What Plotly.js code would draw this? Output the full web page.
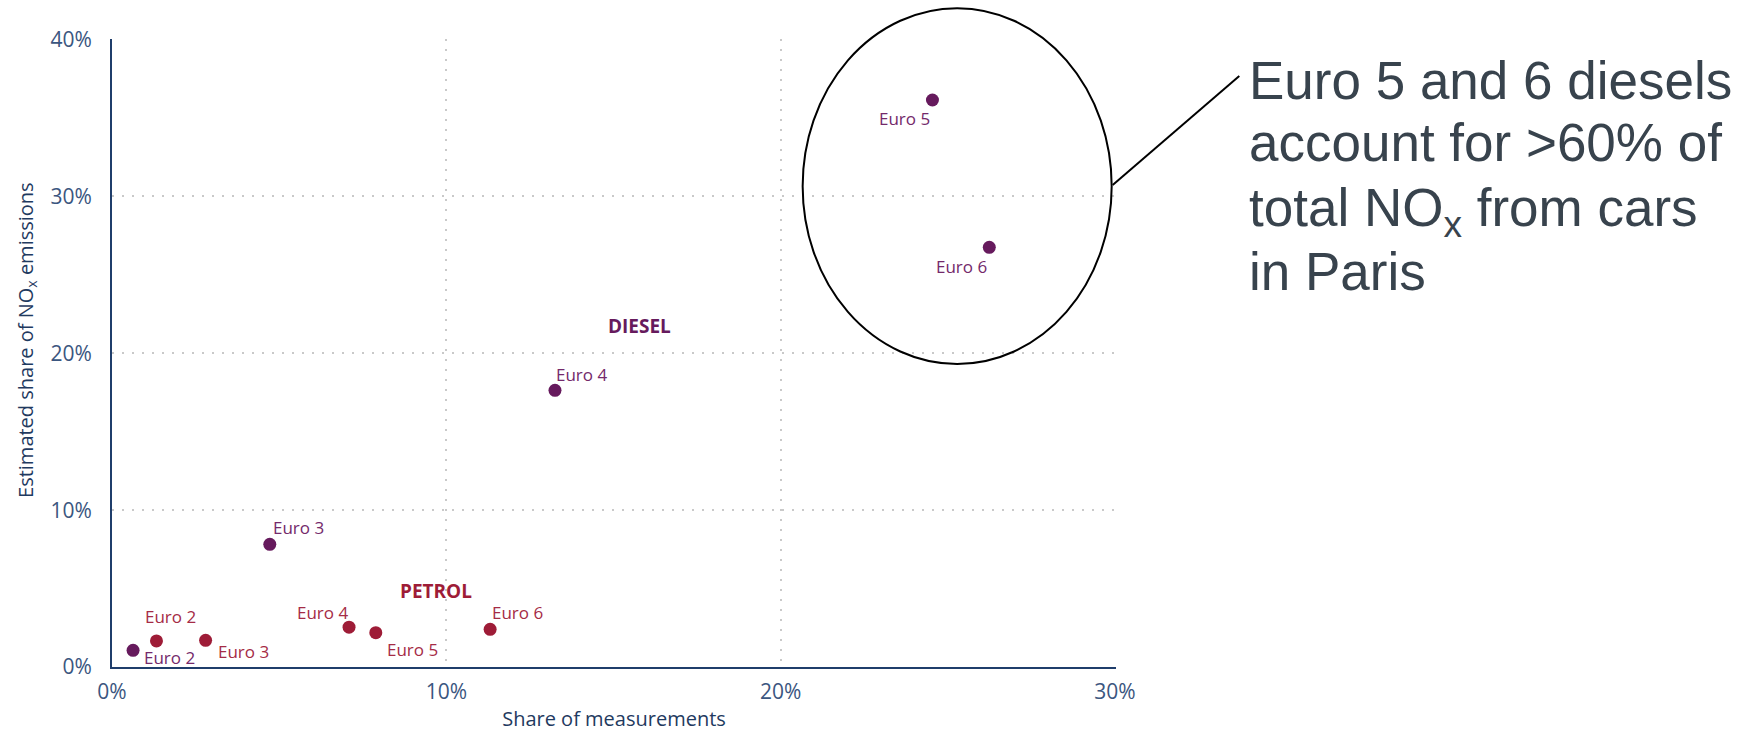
<!DOCTYPE html>
<html>
<head>
<meta charset="utf-8">
<script src="https://cdn.plot.ly/plotly-3.0.1.min.js"></script>
<style>html,body{margin:0;padding:0;background:#fff;}#chart{width:1752px;height:732px;}</style>
</head>
<body>
<div id="chart"></div>
<script>
// ---- data (values in %) ----
const categories = ['Euro 2', 'Euro 3', 'Euro 4', 'Euro 5', 'Euro 6'];
const dieselShareOfMeasurements = [0.63, 4.72, 13.25, 24.54, 26.24];
const dieselShareOfNOx = [1.06, 7.82, 17.64, 36.15, 26.76];
const petrolShareOfMeasurements = [1.33, 2.80, 7.09, 7.89, 11.31];
const petrolShareOfNOx = [1.66, 1.70, 2.54, 2.19, 2.40];
const xTickValues = [0, 10, 20, 30];
const yTickValues = [0, 10, 20, 30, 40];

// ---- styles ----
const dieselColor = '#661a5d';
const dieselText = '#74296b';
const petrolColor = '#9e1c37';
const petrolText = '#a52b46';
const navy = '#1f3d6b';
const tickColor = '#3b5680';
const chartFont = 'Open Sans, Noto Sans, sans-serif';
// label offsets in px [dx, dy(down)] relative to each point
const dieselLabelOffsets = [[36, 7], [29, -17], [27, -16], [-28, 18], [-28, 19]];
const petrolLabelOffsets = [[14, -24], [38, 11], [-27, -15], [37, 17], [27, -17]];

const traces = [
  {
    type: 'scatter', mode: 'markers', name: 'Diesel',
    x: dieselShareOfMeasurements, y: dieselShareOfNOx, text: categories,
    marker: {color: dieselColor, size: 13}, cliponaxis: false, hoverinfo: 'x+y+text'
  },
  {
    type: 'scatter', mode: 'markers', name: 'Petrol',
    x: petrolShareOfMeasurements, y: petrolShareOfNOx, text: categories,
    marker: {color: petrolColor, size: 13}, cliponaxis: false, hoverinfo: 'x+y+text'
  }
];

const annotations = [];
function addLabels(xs, ys, offsets, color) {
  categories.forEach((c, i) => {
    annotations.push({
      x: xs[i], y: ys[i], xref: 'x', yref: 'y', text: c, showarrow: false,
      xanchor: 'center', yanchor: 'middle',
      xshift: offsets[i][0], yshift: -offsets[i][1],
      font: {family: chartFont, size: 17, color: color}
    });
  });
}
addLabels(dieselShareOfMeasurements, dieselShareOfNOx, dieselLabelOffsets, dieselText);
addLabels(petrolShareOfMeasurements, petrolShareOfNOx, petrolLabelOffsets, petrolText);

annotations.push({x: 15.77, y: 21.76, xref: 'x', yref: 'y', text: '<b>DIESEL</b>', showarrow: false,
  xanchor: 'center', yanchor: 'middle', font: {family: chartFont, size: 19, color: dieselColor}});
annotations.push({x: 9.69, y: 4.85, xref: 'x', yref: 'y', text: '<b>PETROL</b>', showarrow: false,
  xanchor: 'center', yanchor: 'middle', font: {family: chartFont, size: 19, color: petrolColor}});

// y-axis title placed as rotated text
annotations.push({x: -0.0857, y: 0.5207, xref: 'paper', yref: 'paper', textangle: -90,
  text: 'Estimated share of NO<sub>x</sub> emissions', showarrow: false,
  xanchor: 'center', yanchor: 'middle', font: {family: chartFont, size: 20, color: '#1f3a60'}});

const calloutLines = ['Euro 5 and 6 diesels', 'account for >60% of', 'total NO<sub>x</sub> from cars', 'in Paris'];
const calloutY = [0.9846, 0.8849, 0.7818, 0.6799];
calloutLines.forEach((t, i) => {
  annotations.push({x: 1.1305, y: calloutY[i], xref: 'paper', yref: 'paper', text: t, showarrow: false,
    xanchor: 'left', yanchor: 'top', align: 'left',
    font: {family: 'Liberation Sans, Arial, sans-serif', size: 53, color: '#38434d'}});
});

const layout = {
  width: 1752, height: 732,
  margin: {l: 112, r: 636, t: 39, b: 65, pad: 0},
  paper_bgcolor: '#ffffff', plot_bgcolor: '#ffffff',
  showlegend: false,
  font: {family: chartFont, color: tickColor},
  xaxis: {
    range: [0, 30.03], tickvals: xTickValues, ticktext: xTickValues.map(v => v + '%'),
    showline: true, linecolor: navy, linewidth: 2, zeroline: false,
    showgrid: true, gridcolor: '#c9c9c9', gridwidth: 2, griddash: '2px,8px',
    ticks: '', ticklabelstandoff: 5,
    tickfont: {family: chartFont, size: 21, color: tickColor},
    title: {text: 'Share of measurements', standoff: 12, font: {family: chartFont, size: 20, color: '#1f3a60'}},
    automargin: false, fixedrange: true
  },
  yaxis: {
    range: [0, 40.04], tickvals: yTickValues, ticktext: yTickValues.map(v => v + '%'),
    showline: true, linecolor: navy, linewidth: 2, zeroline: false,
    showgrid: true, gridcolor: '#c9c9c9', gridwidth: 2, griddash: '2px,8px',
    ticks: '', ticklabelstandoff: 14,
    tickfont: {family: chartFont, size: 21, color: tickColor},
    automargin: false, fixedrange: true
  },
  annotations: annotations,
  shapes: [
    {type: 'circle', xref: 'paper', yref: 'paper', x0: 0.6879, x1: 0.9957, y0: 0.4825, y1: 1.0489,
      line: {color: '#000000', width: 2}, fillcolor: 'rgba(0,0,0,0)'},
    {type: 'line', xref: 'paper', yref: 'paper', x0: 0.9967, y0: 0.7675, x1: 1.1228, y1: 0.9411,
      line: {color: '#000000', width: 2}}
  ]
};

Plotly.newPlot('chart', traces, layout, {displayModeBar: false, staticPlot: true});
</script>
</body>
</html>
